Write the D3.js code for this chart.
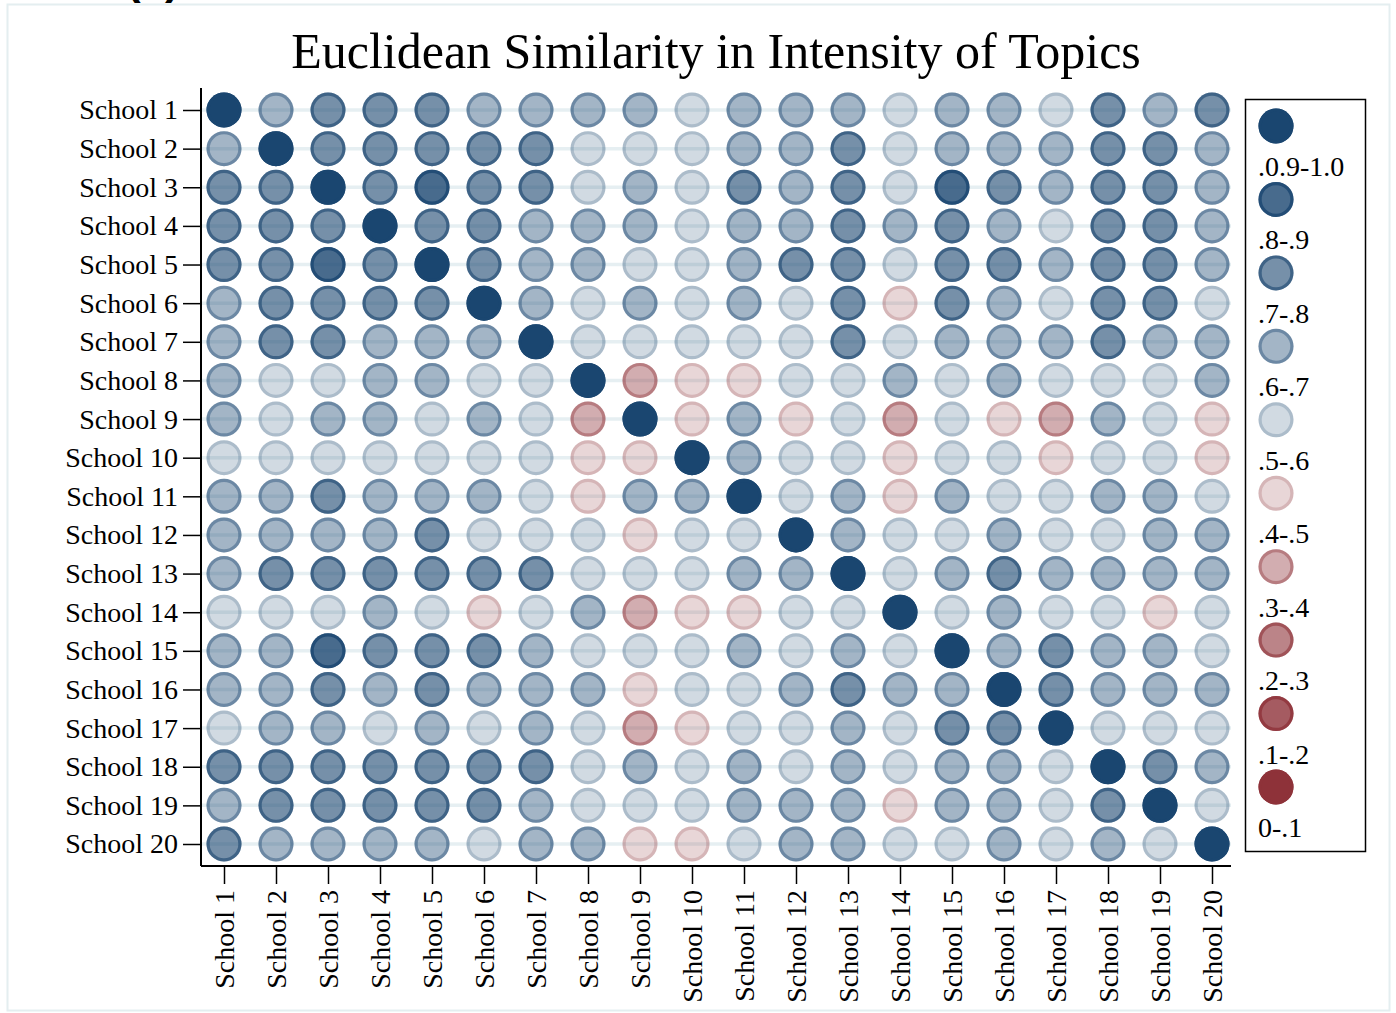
<!DOCTYPE html>
<html>
<head>
<meta charset="utf-8">
<script src="https://cdn.jsdelivr.net/npm/d3@7"></script>
<style>
  html, body { margin: 0; padding: 0; background: #fff; }
  svg text { font-family: "Liberation Serif", "Times New Roman", serif; fill: #000; }
</style>
</head>
<body>
<svg id="chart" width="1396" height="1013"></svg>
<script>
// ---------- DATA ----------
const schools = d3.range(1, 21).map(i => "School " + i);

const titleText = "Euclidean Similarity in Intensity of Topics";

// similarity values (bin mid-points)
const similarity = [
  [1, .65,.75,.75,.75,.65,.65,.65,.65,.55, .65,.65,.65,.55,.65,.65,.55,.75,.65,.75],
  [.65,1,.75,.75,.75,.75,.75,.55,.55,.55, .65,.65,.75,.55,.65,.65,.65,.75,.75,.65],
  [.75,.75,1,.75,.85,.75,.75,.55,.65,.55, .75,.65,.75,.55,.85,.75,.65,.75,.75,.65],
  [.75,.75,.75,1,.75,.75,.65,.65,.65,.55, .65,.65,.75,.65,.75,.65,.55,.75,.75,.65],
  [.75,.75,.85,.75,1,.75,.65,.65,.55,.55, .65,.75,.75,.55,.75,.75,.65,.75,.75,.65],
  [.65,.75,.75,.75,.75,1,.65,.55,.65,.55, .65,.55,.75,.45,.75,.65,.55,.75,.75,.55],
  [.65,.75,.75,.65,.65,.65,1,.55,.55,.55, .55,.55,.75,.55,.65,.65,.65,.75,.65,.65],
  [.65,.55,.55,.65,.65,.55,.55,1,.35,.45, .45,.55,.55,.65,.55,.65,.55,.55,.55,.65],
  [.65,.55,.65,.65,.55,.65,.55,.35,1,.45, .65,.45,.55,.35,.55,.45,.35,.65,.55,.45],
  [.55,.55,.55,.55,.55,.55,.55,.45,.45,1, .65,.55,.55,.45,.55,.55,.45,.55,.55,.45],
  [.65,.65,.75,.65,.65,.65,.55,.45,.65,.65, 1,.55,.65,.45,.65,.55,.55,.65,.65,.55],
  [.65,.65,.65,.65,.75,.55,.55,.55,.45,.55, .55,1,.65,.55,.55,.65,.55,.55,.65,.65],
  [.65,.75,.75,.75,.75,.75,.75,.55,.55,.55, .65,.65,1,.55,.65,.75,.65,.65,.65,.65],
  [.55,.55,.55,.65,.55,.45,.55,.65,.35,.45, .45,.55,.55,1,.55,.65,.55,.55,.45,.55],
  [.65,.65,.85,.75,.75,.75,.65,.55,.55,.55, .65,.55,.65,.55,1,.65,.75,.65,.65,.55],
  [.65,.65,.75,.65,.75,.65,.65,.65,.45,.55, .55,.65,.75,.65,.65,1,.75,.65,.65,.65],
  [.55,.65,.65,.55,.65,.55,.65,.55,.35,.45, .55,.55,.65,.55,.75,.75,1,.55,.55,.55],
  [.75,.75,.75,.75,.75,.75,.75,.55,.65,.55, .65,.55,.65,.55,.65,.65,.55,1,.75,.65],
  [.65,.75,.75,.75,.75,.75,.65,.55,.55,.55, .65,.65,.65,.45,.65,.65,.55,.75,1,.55],
  [.75,.65,.65,.65,.65,.55,.65,.65,.45,.45, .55,.65,.65,.55,.55,.65,.55,.65,.55,1]
];

// bins: index 0 = 0-.1 ... index 9 = .9-1.0
const binThresholds = [.1,.2,.3,.4,.5,.6,.7,.8,.9];
const binLabels = ["0-.1",".1-.2",".2-.3",".3-.4",".4-.5",".5-.6",".6-.7",".7-.8",".8-.9",".0.9-1.0"];

// ---------- STYLE ----------
const blue = "#1a4670", red = "#8e3239";
const binColor = i => i >= 5 ? blue : red;
const binOpacity = i => i >= 5 ? (i - 4) * 0.2 : (5 - i) * 0.2;

const svg = d3.select("#chart");

// outer light frame
svg.append("rect").attr("x", 7.5).attr("y", 4.5).attr("width", 1382).attr("height", 1006)
  .attr("fill", "none").attr("stroke", "#e4eef0").attr("stroke-width", 2);

// clipped panel label at top
svg.append("text").attr("x", 126).attr("y", -6).attr("font-size", 44).attr("font-weight", "bold")
  .style("font-family", "Liberation Sans, Arial, sans-serif").text("(a)");

// title
svg.append("text").attr("x", 716).attr("y", 68).attr("text-anchor", "middle")
  .attr("font-size", 50).text(titleText);

const x = d3.scalePoint().domain(schools).range([224, 1212]);
const y = d3.scalePoint().domain(schools).range([110, 844]);
const bin = d3.scaleThreshold().domain(binThresholds).range(d3.range(10));

const plotL = 201, plotR = 1231, plotT = 88, plotB = 866;

// gridlines
svg.append("g").selectAll("line").data(schools).join("line")
  .attr("x1", plotL).attr("x2", plotR)
  .attr("y1", d => y(d)).attr("y2", d => y(d))
  .attr("stroke", "#e6eff2").attr("stroke-width", 3.5);

// markers
const R = 17.5, SW = 3.2;
const cells = [];
similarity.forEach((row, i) => row.forEach((v, j) => cells.push({r: schools[i], c: schools[j], v})));

const g = svg.append("g");
const mk = g.selectAll("g").data(cells).join("g")
  .attr("transform", d => `translate(${x(d.c)},${y(d.r)})`);
mk.append("circle").attr("r", R)
  .attr("fill", d => binColor(bin(d.v))).attr("fill-opacity", d => binOpacity(bin(d.v)));
mk.append("circle").attr("r", R - SW / 2)
  .attr("fill", "none").attr("stroke", d => binColor(bin(d.v)))
  .attr("stroke-opacity", d => binOpacity(bin(d.v))).attr("stroke-width", SW);

// axes
const yAxis = d3.axisLeft(y).tickSize(18).tickPadding(5);
const xAxis = d3.axisBottom(x).tickSize(18).tickPadding(6);

const gy = svg.append("g").attr("transform", `translate(${plotL},0)`).call(yAxis);
gy.select(".domain").remove();
gy.selectAll(".tick line").attr("stroke", "#000").attr("stroke-width", 1.5);
gy.selectAll(".tick text").attr("font-size", 28).style("font-family", "Liberation Serif, serif").attr("fill", "#000");

const gx = svg.append("g").attr("transform", `translate(0,${plotB})`).call(xAxis);
gx.select(".domain").remove();
gx.selectAll(".tick line").attr("stroke", "#000").attr("stroke-width", 1.5);
gx.selectAll(".tick text").attr("font-size", 28).style("font-family", "Liberation Serif, serif").attr("fill", "#000")
  .attr("text-anchor", "end").attr("transform", "rotate(-90)")
  .attr("x", -24).attr("y", 0).attr("dy", "0.35em");

// axis lines
svg.append("line").attr("x1", plotL).attr("x2", plotL).attr("y1", plotT).attr("y2", plotB)
  .attr("stroke", "#000").attr("stroke-width", 2);
svg.append("line").attr("x1", plotL).attr("x2", plotR).attr("y1", plotB).attr("y2", plotB)
  .attr("stroke", "#000").attr("stroke-width", 2);

// legend
const legend = svg.append("g");
legend.append("rect").attr("x", 1245.5).attr("y", 99.5).attr("width", 120).attr("height", 752)
  .attr("fill", "#fff").attr("stroke", "#000").attr("stroke-width", 1.5);
const legendOrder = d3.range(9, -1, -1);
const ly = d3.scalePoint().domain(legendOrder).range([126, 787]);
const li = legend.selectAll("g.item").data(legendOrder).join("g").attr("class", "item")
  .attr("transform", d => `translate(1276,${ly(d)})`);
li.append("circle").attr("r", R)
  .attr("fill", d => binColor(d)).attr("fill-opacity", d => binOpacity(d));
li.append("circle").attr("r", R - SW / 2).attr("fill", "none")
  .attr("stroke", d => binColor(d)).attr("stroke-opacity", d => binOpacity(d)).attr("stroke-width", SW);
li.append("text").attr("x", -18).attr("y", 50).attr("font-size", 28).text(d => binLabels[d]);
</script>
</body>
</html>
